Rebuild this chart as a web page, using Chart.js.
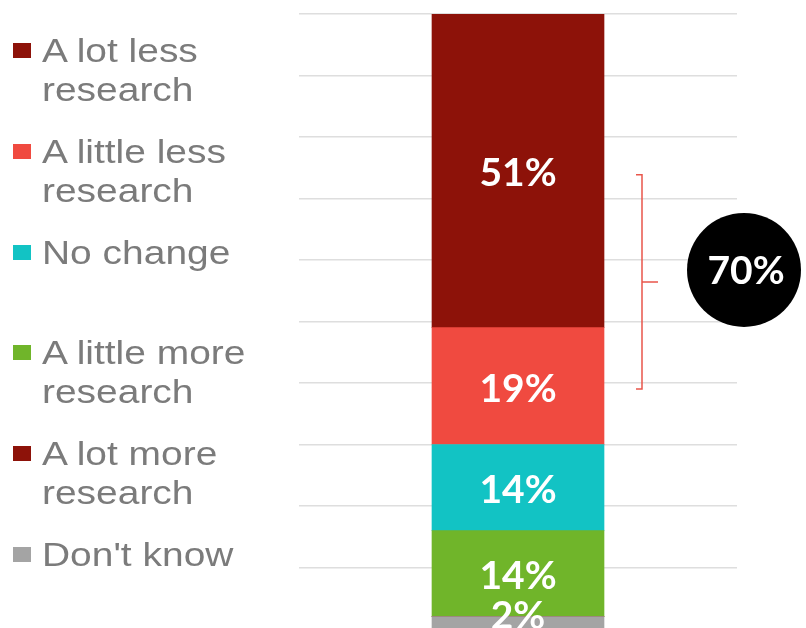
<!DOCTYPE html>
<html>
<head>
<meta charset="utf-8">
<script src="https://cdn.jsdelivr.net/npm/chart.js@4/dist/chart.umd.min.js"></script>
<style>
  html, body { margin: 0; padding: 0; background: #ffffff; overflow: hidden; width: 806px; height: 628px; }
  #wrap { position: absolute; left: 0; top: 0; width: 806px; height: 640px; }
  #legend { position: absolute; left: 0; top: 0; width: 290px; height: 628px; }
  .lg-item { position: absolute; left: 0; width: 290px; }
  .lg-sq { position: absolute; left: 13px; top: 12px; width: 18px; height: 15px; }
  .lg-txt { position: absolute; left: 42px; top: 0; font-family: "Liberation Sans", Arial, sans-serif; font-size: 33px; line-height: 39px; color: #7b7b7b; white-space: nowrap; transform: scaleX(1.18); transform-origin: left top; }
</style>
</head>
<body>
<div id="wrap"><canvas id="c" width="806" height="640"></canvas></div>
<div id="legend"></div>
<script>
// ---- data ----
const categories = ['Research'];
const seriesNames = ['A lot less research', 'A little less research', 'No change', 'A little more research', 'A lot more research', "Don't know"];
const legendLines = [['A lot less', 'research'], ['A little less', 'research'], ['No change'], ['A little more', 'research'], ['A lot more', 'research'], ["Don't know"]];
const seriesValues = [51, 19, 14, 14, 0, 2];
const seriesColors = ['#8d1209', '#f04a40', '#12c3c4', '#70b52a', '#8d1209', '#a4a4a4'];
const yTicks = [0, 10, 20, 30, 40, 50, 60, 70, 80, 90, 100];
const bracketSeries = [0, 1]; // "A lot less" + "A little less"

// ---- legend (HTML) ----
const legendEl = document.getElementById('legend');
legendLines.forEach((lines, i) => {
  const item = document.createElement('div');
  item.className = 'lg-item';
  item.style.top = (31 + i * 100.8) + 'px';
  const sq = document.createElement('div');
  sq.className = 'lg-sq';
  sq.style.background = seriesColors[i];
  const tx = document.createElement('div');
  tx.className = 'lg-txt';
  tx.innerHTML = lines.join('<br>');
  item.appendChild(sq);
  item.appendChild(tx);
  legendEl.appendChild(item);
});

// ---- datasets: stacked bottom-up (reverse of legend order) ----
const order = seriesNames.map((_, i) => i).reverse();
const datasets = order.map(i => ({
  label: seriesNames[i],
  data: [seriesValues[i]],
  backgroundColor: seriesColors[i],
  borderWidth: 0,
  seriesIndex: i
}));

const labelFont = '700 39px Lato, "Open Sans", sans-serif';

const annotPlugin = {
  id: 'annot',
  afterDatasetsDraw(chart) {
    const ctx = chart.ctx;
    ctx.save();
    // segment value labels
    chart.data.datasets.forEach((ds, di) => {
      const meta = chart.getDatasetMeta(di);
      meta.data.forEach((el, j) => {
        const v = ds.data[j];
        if (!v) return;
        const h = Math.abs(el.base - el.y);
        const y = h < 30 ? Math.min(el.y, el.base) : (el.y + el.base) / 2 + 3;
        ctx.fillStyle = '#ffffff';
        ctx.font = labelFont;
        ctx.textAlign = 'center';
        ctx.textBaseline = 'middle';
        ctx.fillText(v + '%', el.x, y);
      });
    });
    // bracket across the two "less" segments
    const els = bracketSeries.map(si => {
      const di = chart.data.datasets.findIndex(d => d.seriesIndex === si);
      return chart.getDatasetMeta(di).data[0];
    });
    const centers = els.map(e => (e.y + e.base) / 2);
    const top = Math.min(...centers) + 4;
    const bot = Math.max(...centers) + 3;
    const right = els[0].x + els[0].width / 2;
    const bx = right + 38;
    ctx.strokeStyle = '#e9564b';
    ctx.lineWidth = 1.5;
    ctx.beginPath();
    ctx.moveTo(bx - 6, top); ctx.lineTo(bx, top); ctx.lineTo(bx, bot); ctx.lineTo(bx - 6, bot);
    const mid = (top + bot) / 2;
    ctx.moveTo(bx, mid); ctx.lineTo(bx + 16, mid);
    ctx.stroke();
    // circle with total
    const total = bracketSeries.reduce((s, si) => s + seriesValues[si], 0);
    const cx = right + 140, cy = mid - 12, r = 57;
    ctx.fillStyle = '#000000';
    ctx.beginPath();
    ctx.arc(cx, cy, r, 0, Math.PI * 2);
    ctx.fill();
    ctx.fillStyle = '#ffffff';
    ctx.font = labelFont;
    ctx.textAlign = 'center';
    ctx.textBaseline = 'middle';
    ctx.fillText(total + '%', cx + 2, cy + 1);
    ctx.restore();
  }
};

new Chart(document.getElementById('c'), {
  type: 'bar',
  data: { labels: categories, datasets },
  plugins: [annotPlugin],
  options: {
    responsive: false,
    animation: false,
    layout: { padding: { left: 299, right: 69, top: 14, bottom: 11 } },
    plugins: { legend: { display: false }, tooltip: { enabled: false } },
    datasets: { bar: { barThickness: 172 } },
    scales: {
      x: { stacked: true, display: false },
      y: {
        stacked: true,
        min: yTicks[0],
        max: yTicks[yTicks.length - 1],
        afterBuildTicks(scale) { scale.ticks = yTicks.map(v => ({ value: v })); },
        ticks: { display: false },
        grid: { color: '#dedede', lineWidth: 1.5, drawTicks: false },
        border: { display: false }
      }
    }
  }
});
</script>
</body>
</html>
